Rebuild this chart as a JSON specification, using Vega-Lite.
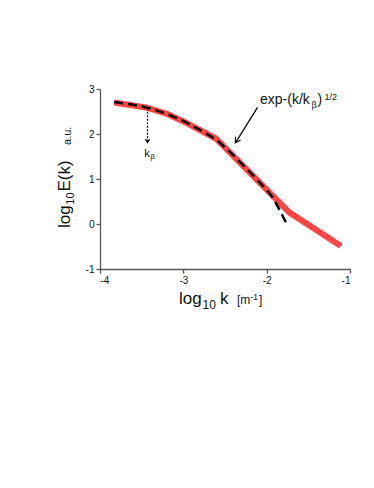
{
  "$schema": "https://vega.github.io/schema/vega-lite/v6.json",
  "width": 250,
  "height": 180,
  "autosize": {"type": "none"},
  "padding": {"left": 100, "top": 89, "right": 24, "bottom": 219},
  "background": "white",
  "config": {
    "view": {"stroke": null},
    "font": "Liberation Sans",
    "text": {"font": "Liberation Sans", "color": "#111111"},
    "axis": {
      "grid": false,
      "domainColor": "#555555",
      "domainWidth": 1.3,
      "tickColor": "#555555",
      "tickWidth": 1.3,
      "tickSize": 4,
      "labelFont": "Liberation Sans",
      "labelFontSize": 10,
      "labelColor": "#111111",
      "labelPadding": 2
    }
  },
  "datasets": {
    "spectrum": [
      {"logk": -3.83, "logE": 2.70},
      {"logk": -3.45, "logE": 2.59},
      {"logk": -3.2, "logE": 2.45},
      {"logk": -3.0, "logE": 2.28},
      {"logk": -2.61, "logE": 1.90},
      {"logk": -1.73, "logE": 0.26},
      {"logk": -1.11, "logE": -0.49}
    ],
    "fit": [
      {"logk": -3.83, "logE": 2.71},
      {"logk": -3.6, "logE": 2.65},
      {"logk": -3.4, "logE": 2.57},
      {"logk": -3.2, "logE": 2.45},
      {"logk": -3.0, "logE": 2.29},
      {"logk": -2.8, "logE": 2.09},
      {"logk": -2.6, "logE": 1.87},
      {"logk": -2.4, "logE": 1.53},
      {"logk": -2.2, "logE": 1.15},
      {"logk": -2.0, "logE": 0.76},
      {"logk": -1.92, "logE": 0.57},
      {"logk": -1.85, "logE": 0.33},
      {"logk": -1.77, "logE": 0.04}
    ]
  },
  "encoding": {
    "x": {
      "field": "logk", "type": "quantitative",
      "scale": {"domain": [-4, -1], "nice": false, "zero": false},
      "axis": {
        "values": [-4, -3, -2, -1],
        "labelExpr": "'' + datum.value",
        "title": null
      }
    },
    "y": {
      "field": "logE", "type": "quantitative",
      "scale": {"domain": [-1, 3], "nice": false, "zero": false},
      "axis": {
        "values": [-1, 0, 1, 2, 3],
        "labelExpr": "'' + datum.value",
        "title": null
      }
    }
  },
  "layer": [
    {
      "data": {"name": "spectrum"},
      "mark": {"type": "line", "color": "#ff4444", "strokeWidth": 6, "clip": false},
      "encoding": {}
    },
    {
      "data": {"name": "fit"},
      "mark": {"type": "line", "color": "#000000", "strokeWidth": 2.5, "strokeDash": [9, 5], "clip": false},
      "encoding": {}
    },
    {
      "data": {"values": [{"logk": -3.43, "logE": 2.57, "k2": -3.43, "e2": 1.83}]},
      "mark": {"type": "rule", "color": "#000000", "strokeWidth": 1.2, "strokeDash": [2, 1.5]},
      "encoding": {"x2": {"field": "k2"}, "y2": {"field": "e2"}}
    },
    {
      "data": {"values": [{"logk": -3.43, "logE": 1.81}]},
      "mark": {"type": "point", "shape": "M-1,-1.7L0,0L1,-1.7", "size": 16, "filled": false, "color": "#000000", "strokeWidth": 1.2, "opacity": 1},
      "encoding": {}
    },
    {
      "data": {"values": [{"logk": -2.109, "logE": 2.593, "k2": -2.37, "e2": 1.82}]},
      "mark": {"type": "rule", "color": "#000000", "strokeWidth": 1.2},
      "encoding": {"x2": {"field": "k2"}, "y2": {"field": "e2"}}
    },
    {
      "data": {"values": [{"logk": -2.376, "logE": 1.807}]},
      "mark": {"type": "point", "shape": "M-1,-1.7L0,0L1,-1.7", "size": 36, "filled": false, "color": "#000000", "strokeWidth": 1.2, "angle": 32.7, "opacity": 1},
      "encoding": {}
    },
    {
      "data": {"values": [{"logk": -3.47, "logE": 1.49, "t": "k"}]},
      "mark": {"type": "text", "fontSize": 11, "align": "left", "baseline": "alphabetic"},
      "encoding": {"text": {"field": "t"}}
    },
    {
      "data": {"values": [{"logk": -3.47, "logE": 1.49, "t": "β"}]},
      "mark": {"type": "text", "fontSize": 8, "align": "left", "baseline": "alphabetic", "dx": 6, "dy": 2},
      "encoding": {"text": {"field": "t"}}
    },
    {
      "data": {"values": [{"logk": -2.08, "logE": 2.667, "t": "exp-(k/k"}]},
      "mark": {"type": "text", "fontSize": 14, "align": "left", "baseline": "alphabetic"},
      "encoding": {"text": {"field": "t"}}
    },
    {
      "data": {"values": [{"logk": -2.08, "logE": 2.667, "t": "β"}]},
      "mark": {"type": "text", "fontSize": 9, "align": "left", "baseline": "alphabetic", "dx": 51.5, "dy": 4},
      "encoding": {"text": {"field": "t"}}
    },
    {
      "data": {"values": [{"logk": -2.08, "logE": 2.667, "t": ")"}]},
      "mark": {"type": "text", "fontSize": 14, "align": "left", "baseline": "alphabetic", "dx": 57.5},
      "encoding": {"text": {"field": "t"}}
    },
    {
      "data": {"values": [{"logk": -2.08, "logE": 2.667, "t": "1/2"}]},
      "mark": {"type": "text", "fontSize": 9, "align": "left", "baseline": "alphabetic", "dx": 64.5, "dy": -4},
      "encoding": {"text": {"field": "t"}}
    },
    {
      "data": {"values": [{"logk": -4.36, "logE": -0.089, "t": "log"}]},
      "mark": {"type": "text", "fontSize": 17, "align": "left", "baseline": "alphabetic", "angle": 270},
      "encoding": {"text": {"field": "t"}}
    },
    {
      "data": {"values": [{"logk": -4.36, "logE": -0.089, "t": "10"}]},
      "mark": {"type": "text", "fontSize": 11, "align": "left", "baseline": "alphabetic", "angle": 270, "dx": 23.3, "dy": 4},
      "encoding": {"text": {"field": "t"}}
    },
    {
      "data": {"values": [{"logk": -4.36, "logE": -0.089, "t": "E(k)"}]},
      "mark": {"type": "text", "fontSize": 17, "align": "left", "baseline": "alphabetic", "angle": 270, "dx": 36.5},
      "encoding": {"text": {"field": "t"}}
    },
    {
      "data": {"values": [{"logk": -4.384, "logE": 1.96, "t": "a.u."}]},
      "mark": {"type": "text", "fontSize": 11, "align": "center", "baseline": "middle", "angle": 270},
      "encoding": {"text": {"field": "t"}}
    },
    {
      "data": {"values": [{"logk": -3.052, "logE": -1.778, "t": "log"}]},
      "mark": {"type": "text", "fontSize": 17, "align": "left", "baseline": "alphabetic"},
      "encoding": {"text": {"field": "t"}}
    },
    {
      "data": {"values": [{"logk": -3.052, "logE": -1.778, "t": "10"}]},
      "mark": {"type": "text", "fontSize": 12, "align": "left", "baseline": "alphabetic", "dx": 23.5, "dy": 5},
      "encoding": {"text": {"field": "t"}}
    },
    {
      "data": {"values": [{"logk": -3.052, "logE": -1.778, "t": "k"}]},
      "mark": {"type": "text", "fontSize": 17, "align": "left", "baseline": "alphabetic", "dx": 41},
      "encoding": {"text": {"field": "t"}}
    },
    {
      "data": {"values": [{"logk": -3.052, "logE": -1.778, "t": "[m"}]},
      "mark": {"type": "text", "fontSize": 12, "align": "left", "baseline": "alphabetic", "dx": 58},
      "encoding": {"text": {"field": "t"}}
    },
    {
      "data": {"values": [{"logk": -3.052, "logE": -1.778, "t": "-1"}]},
      "mark": {"type": "text", "fontSize": 8.5, "align": "left", "baseline": "alphabetic", "dx": 71.5, "dy": -4.5},
      "encoding": {"text": {"field": "t"}}
    },
    {
      "data": {"values": [{"logk": -3.052, "logE": -1.778, "t": "]"}]},
      "mark": {"type": "text", "fontSize": 12, "align": "left", "baseline": "alphabetic", "dx": 80},
      "encoding": {"text": {"field": "t"}}
    }
  ]
}
